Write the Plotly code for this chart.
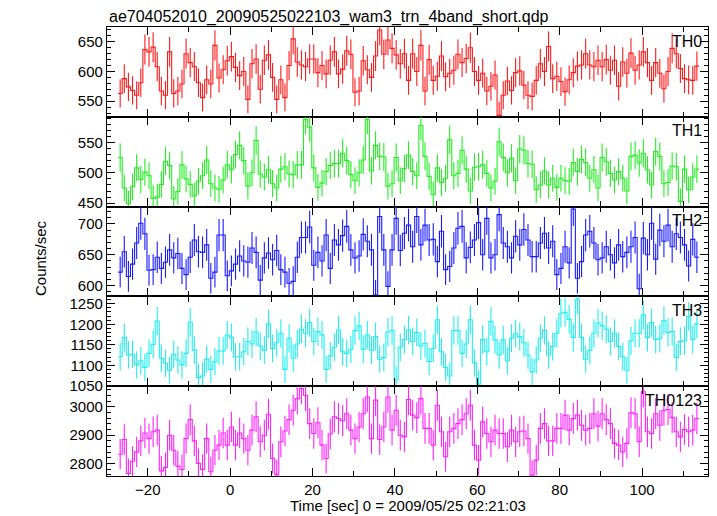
import plotly.graph_objects as go
from plotly.subplots import make_subplots

# ---------------- data ----------------
bin_start = -27.2
bin_width = 1.0

th0 = [563,588,574,568,560,581,637,633,641,608,
       567,560,633,563,567,579,630,615,608,581,
       556,586,579,644,589,603,618,625,607,593,
       600,553,613,621,570,619,628,590,553,586,
       556,610,655,616,611,608,621,621,598,610,
       596,619,633,596,604,635,629,565,567,618,
       603,590,626,670,629,653,
       639,628,613,630,585,630,600,644,567,620,
       585,592,626,591,597,602,629,615,622,640,
       600,585,597,567,575,594,526,560,584,568,
       598,601,577,560,558,585,613,600,642,588,
       592,583,566,586,598,609,611,630,611,608,
       619,608,620,602,619,575,616,597,631,602,
       611,633,615,585,615,597,571,600,639,630,
       605,588,586,585,609]

th1 = [525,475,449,477,508,489,501,495,458,460,
       481,519,512,457,469,513,490,481,462,486,
       495,521,482,475,473,488,513,505,530,545,
       520,478,500,553,498,493,505,482,475,506,
       510,498,497,513,513,588,575,508,476,483,
       502,512,515,515,532,520,497,487,500,521,
       588,503,545,527,526,478,
       482,525,487,507,529,502,495,578,527,494,
       464,508,484,491,554,495,499,537,506,470,
       509,510,513,499,475,486,551,525,500,524,
       487,539,537,515,514,472,480,503,480,491,
       476,491,487,486,517,502,522,517,491,505,
       475,525,518,499,488,502,491,470,527,529,
       516,532,505,480,535,527,482,484,511,510,
       453,506,472,493,506]

th2 = [622,655,615,635,669,701,684,625,626,646,
       628,638,658,645,652,628,618,646,674,655,
       654,666,612,622,682,682,616,624,635,648,
       640,638,661,654,609,645,653,642,657,626,
       622,604,607,646,678,678,695,633,654,640,
       682,628,674,666,681,696,658,645,648,683,
       672,658,585,712,658,599,
       658,709,657,685,698,663,712,666,698,674,
       675,639,688,626,631,661,693,696,645,662,
       674,702,650,709,645,650,715,669,663,645,
       680,666,691,674,647,647,669,685,661,672,
       618,628,663,637,724,612,639,682,688,669,
       642,645,663,650,637,666,647,654,663,678,
       595,677,650,701,643,690,672,698,663,684,
       678,666,632,675,646]

th3 = [1121,1168,1125,1127,1101,1111,1095,1129,1151,1208,
       1117,1105,1088,1127,1113,1101,1129,1205,1137,1070,
       1074,1115,1090,1109,1135,1135,1174,1168,1121,1121,
       1133,1158,1152,1181,1147,1137,1201,1141,1155,1178,
       1090,1166,1117,1152,1188,1178,1204,1158,1182,1174,
       1090,1123,1144,1186,1133,1129,1139,1185,1196,1139,
       1174,1137,1170,1115,1119,1181,
       1185,1064,1144,1163,1186,1158,1180,1147,1153,1109,
       1141,1211,1133,1095,1074,1185,1185,1129,1152,1211,
       1106,1054,1163,1133,1207,1162,1125,1162,1111,1166,
       1177,1170,1155,1125,1084,1113,1166,1185,1125,1146,
       1178,1227,1229,1212,1168,1261,1168,1115,1136,1178,
       1203,1196,1188,1158,1178,1146,1121,1088,1160,1178,
       1178,1223,1168,1204,1163,1166,1209,1180,1182,1119,
       1158,1160,1219,1163,1201]

th0123 = [2833,2885,2765,2808,2841,2880,2908,2888,2912,2918,
          2774,2786,2900,2847,2791,2779,2888,2955,2880,2800,
          2779,2888,2771,2847,2865,2908,2865,2929,2865,2908,
          2888,2847,2918,2965,2877,2900,2974,2818,2761,2877,
          2915,2955,2988,3029,3065,3041,2941,2906,2944,2865,
          2818,2904,2965,2959,2951,2976,2918,2888,2929,2976,
          3035,2888,3024,2885,2929,3035,
          2918,2988,2900,2894,3026,2971,2962,3029,2924,2924,
          2865,3006,2912,2824,2912,2924,2941,2955,2976,3006,
          2865,2812,2947,2906,2877,2918,2906,2906,2859,2918,
          2877,2912,2915,2888,2759,2812,2924,2941,2880,2880,
          2924,2924,2971,2918,2959,2971,2935,2918,2924,2976,
          2932,2976,2955,2941,2871,2865,2841,2871,2979,2976,
          2877,3053,2912,2906,2976,2935,2988,2991,2962,2912,
          2894,2920,2912,2918,2959]

band_names = ["TH0", "TH1", "TH2", "TH3", "TH0123"]
band_values = [th0, th1, th2, th3, th0123]
band_colors = ["#ff1a1a", "#22ee22", "#1a1aff", "#22eeee", "#ff22ff"]
y_ranges = [[523.6, 675], [444.4, 592], [582.7, 728], [1049, 1268], [2756, 3073]]
y_dticks = [50, 50, 50, 50, 100]
y_minor = [10, 10, 10, 10, 20]

title_text = "ae704052010_20090525022103_wam3_trn_4band_short.qdp"
x_title = "Time [sec] 0 = 2009/05/25 02:21:03"
y_title = "Counts/sec"

# ---------------- figure ----------------
OFF = 8  # page body margin of the browser
W, H = 717 - OFF, 516 - OFF
PL, PR, PT, PB = 107, 708, 27, 476   # plot area in screen pixels
ML, MR, MT, MB = PL - OFF, W - (PR - OFF), PT - OFF, H - (PB - OFF)
FONT = "Liberation Sans, Arial, Helvetica, sans-serif"

pw = PR - PL
ph = PB - PT


def px_x(sx):
    return (sx - PL) / pw


def px_y(sy):
    return (PB - sy) / ph


fig = make_subplots(rows=5, cols=1, shared_xaxes=True, vertical_spacing=0)

for k, (name, vals, col) in enumerate(zip(band_names, band_values, band_colors)):
    r = k + 1
    n = len(vals)
    edges = [bin_start + i * bin_width for i in range(n + 1)]
    centers = [bin_start + (i + 0.5) * bin_width for i in range(n)]
    fig.add_trace(go.Scatter(
        x=centers, y=vals, mode="markers",
        marker=dict(size=1, color="rgba(0,0,0,0)"),
        error_y=dict(type="sqrt", color=col, thickness=1.1, width=0),
        showlegend=False, hoverinfo="skip"), row=r, col=1)
    fig.add_trace(go.Scatter(
        x=edges, y=vals + [vals[-1]], mode="lines",
        line=dict(shape="hv", color=col, width=1.1),
        showlegend=False, hoverinfo="skip"), row=r, col=1)
    fig.update_yaxes(
        range=y_ranges[k], dtick=y_dticks[k], tick0=0,
        ticks="inside", ticklen=8, tickwidth=1, tickcolor="black",
        minor=dict(dtick=y_minor[k], ticks="inside", ticklen=4, tickcolor="black"),
        mirror="allticks", showline=True, linecolor="black", linewidth=1.3,
        showgrid=False, zeroline=False,
        tickfont=dict(family=FONT, size=15, color="black"),
        row=r, col=1)
    yref = "y domain" if r == 1 else f"y{r} domain"
    xref = "x domain" if r == 1 else f"x{r} domain"
    fig.add_annotation(text=name, xref=xref, yref=yref, x=0.993, y=0.96,
                       xanchor="right", yanchor="top", showarrow=False,
                       font=dict(family=FONT, size=16, color="black"))

fig.update_xaxes(
    range=[-29.9, 116.0], dtick=20, tick0=0,
    ticks="inside", ticklen=8, tickwidth=1, tickcolor="black",
    minor=dict(dtick=10, ticks="inside", ticklen=5, tickcolor="black"),
    mirror="allticks", showline=True, linecolor="black", linewidth=1.3,
    showgrid=False, zeroline=False,
    tickfont=dict(family=FONT, size=15, color="black"))

fig.add_annotation(text=title_text, xref="paper", yref="paper",
                   x=px_x(107), y=px_y(17), xanchor="left", yanchor="middle",
                   showarrow=False, font=dict(family=FONT, size=16, color="black"))
fig.add_annotation(text=x_title, xref="paper", yref="paper",
                   x=px_x(408), y=px_y(506), xanchor="center", yanchor="middle",
                   showarrow=False, font=dict(family=FONT, size=15, color="black"))
fig.add_annotation(text=y_title, xref="paper", yref="paper",
                   x=px_x(41), y=px_y(258), xanchor="center", yanchor="middle",
                   textangle=-90, showarrow=False, font=dict(family=FONT, size=15, color="black"))

fig.update_layout(width=W, height=H, margin=dict(l=ML, r=MR, t=MT, b=MB),
                  paper_bgcolor="white", plot_bgcolor="white", showlegend=False)

fig.write_html("out.html")
